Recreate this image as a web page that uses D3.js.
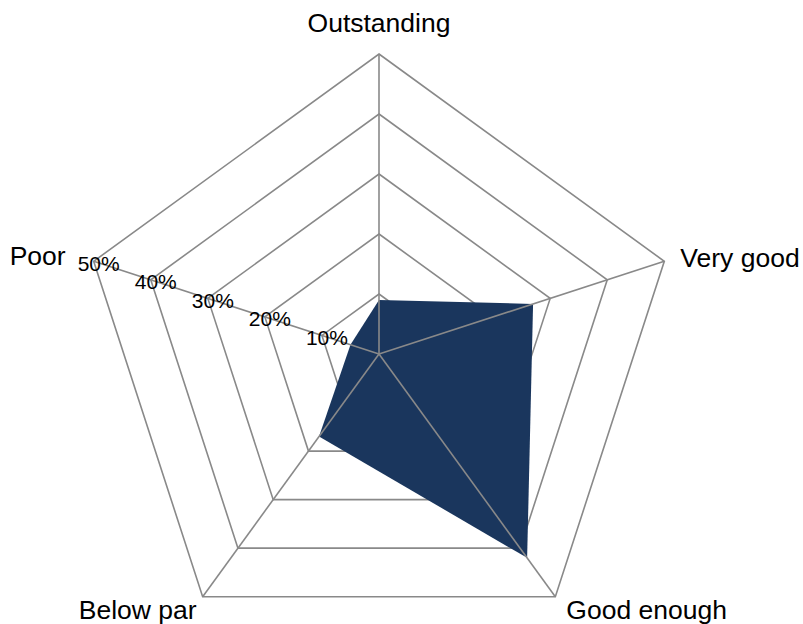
<!DOCTYPE html>
<html><head><meta charset="utf-8">
<script src="https://cdn.jsdelivr.net/npm/d3@7"></script>
<style>body{margin:0;background:#fff}svg{display:block}text{font-family:"Liberation Sans",Arial,sans-serif}</style>
</head><body><svg id="c" width="803" height="624"></svg>
<script>
const categories = ["Outstanding","Very good","Good enough","Below par","Poor"];
const values = [0.09, 0.27, 0.42, 0.17, 0.05];
const tickValues = [0.1,0.2,0.3,0.4,0.5];
const tickLabels = ["10%","20%","30%","40%","50%"];

const svg = d3.select("#c");
const cx = 379, cy = 354, R = 300;
const r = d3.scaleLinear().domain([0,0.5]).range([0,R]);
const a = d3.scalePoint().domain(categories.concat(["_end"])).range([0,2*Math.PI]);
const pt = (c,v) => [cx + r(v)*Math.sin(a(c)), cy - r(v)*Math.cos(a(c))];

const g = svg.append("g");
// rings
tickValues.forEach(t => {
  g.append("polygon").attr("points", categories.map(c => pt(c,t).join(",")).join(" "))
   .attr("fill","none").attr("stroke","#898989").attr("stroke-width",1.6);
});
// data polygon
g.append("polygon").attr("points", categories.map((c,i) => pt(c,values[i]).join(",")).join(" "))
  .attr("fill","#1a365d");
// spokes
categories.forEach(c => {
  const p = pt(c,0.5);
  g.append("line").attr("x1",cx).attr("y1",cy).attr("x2",p[0]).attr("y2",p[1])
   .attr("stroke","#898989").attr("stroke-width",1.6);
});
// tick labels along Poor axis
tickValues.forEach((t,i) => {
  const p = pt("Poor", t);
  g.append("text").attr("x", p[0]+5).attr("y", p[1]+2).attr("text-anchor","middle")
   .attr("dominant-baseline","central").attr("font-size",21).attr("fill","#000").text(tickLabels[i]);
});
// category labels
const labelPos = {
  "Outstanding": {dx:0, dy:-31, anchor:"middle"},
  "Very good": {dx:16, dy:-3, anchor:"start"},
  "Good enough": {dx:11, dy:13, anchor:"start"},
  "Below par": {dx:-6, dy:13, anchor:"end"},
  "Poor": {dx:-28, dy:-5, anchor:"end"}
};
categories.forEach(c => {
  const p = pt(c,0.5), o = labelPos[c];
  g.append("text").attr("x", p[0]+o.dx).attr("y", p[1]+o.dy).attr("text-anchor", o.anchor)
   .attr("dominant-baseline","central").attr("font-size",26.5).attr("fill","#000").text(c);
});
</script></body></html>
